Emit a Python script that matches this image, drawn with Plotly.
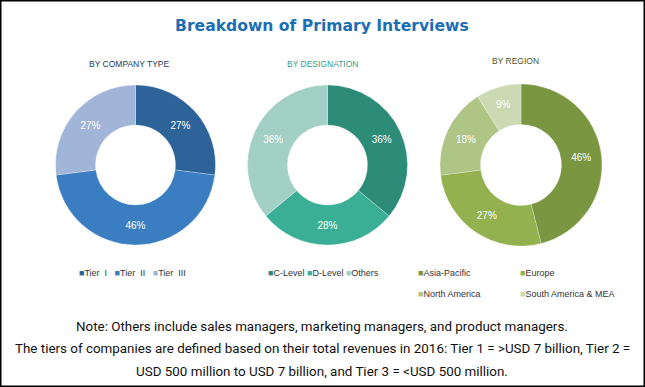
import plotly.graph_objects as go

W, H = 645, 387

# ---- data ----
title_text = "Breakdown of Primary Interviews"

company_labels = ["Tier I", "Tier II", "Tier III"]
company_values = [27, 46, 27]
company_colors = ["#2D6399", "#3A7DC0", "#A1B5D8"]

designation_labels = ["C-Level", "D-Level", "Others"]
designation_values = [36, 28, 36]
designation_colors = ["#2D8C78", "#3BAF95", "#A3D0C5"]

region_labels = ["Asia-Pacific", "Europe", "North America", "South America & MEA"]
region_values = [46, 27, 18, 9]
region_colors = ["#7A9640", "#93B14E", "#AEC586", "#CCDAB4"]

subtitles = ["BY COMPANY TYPE", "BY DESIGNATION", "BY REGION"]
subtitle_colors = ["#1F3A5C", "#3A9A8A", "#4A5528"]

notes = [
    "Note: Others include sales managers, marketing managers, and product managers.",
    "The tiers of companies are defined based on their total revenues in 2016: Tier 1 = >USD 7 billion, Tier 2 =",
    "USD 500 million to USD 7 billion, and Tier 3 = <USD 500 million.",
]

# ---- layout helpers (pixels -> paper) ----
def px(x):
    return x / W

def py(y):
    return 1 - y / H

def dom(cx, cy, r):
    return dict(x=[px(cx - r), px(cx + r)], y=[py(cy + r), py(cy - r)])

fig = go.Figure()

pies = [
    (company_labels, company_values, company_colors, dom(135.5, 165, 80)),
    (designation_labels, designation_values, designation_colors, dom(327.5, 165, 80)),
    (region_labels, region_values, region_colors, dom(521, 165, 81)),
]
for labels, values, colors, d in pies:
    fig.add_trace(go.Pie(
        labels=labels, values=values, hole=0.5, sort=False,
        direction="clockwise", rotation=0, domain=d,
        marker=dict(colors=colors, line=dict(color="rgba(255,255,255,0.5)", width=0.5)),
        textinfo="percent", texttemplate="%{value}%", textposition="inside",
        insidetextorientation="horizontal",
        textfont=dict(family="Liberation Sans, Arial, sans-serif", size=10, color="white"),
        showlegend=False, hoverinfo="label+percent",
    ))

ann = []
# title
ann.append(dict(text=title_text, x=px(322), y=py(26), xref="paper", yref="paper",
                xanchor="center", yanchor="middle", showarrow=False,
                font=dict(family="DejaVu Sans, Verdana, sans-serif", size=15.6, color="#1C6EB4",
                          weight="bold")))
# subtitles
sub_pos = [(129, 64), (322, 64), (515, 61)]
for s, c, (x, y) in zip(subtitles, subtitle_colors, sub_pos):
    ann.append(dict(text=s, x=px(x), y=py(y), xref="paper", yref="paper",
                    xanchor="center", yanchor="middle", showarrow=False,
                    font=dict(family="Liberation Sans, Arial, sans-serif", size=8.5, color=c)))

# legends (built from categories & colors)
legfont = dict(family="Liberation Sans, Arial, sans-serif", size=9, color="#333333")

def leg_item(label, color):
    return f"<span style='color:{color}'>■</span>{label.replace(' ', '&nbsp;&nbsp;')}"

ann.append(dict(text="&nbsp;&nbsp;&nbsp;".join(leg_item(l, c) for l, c in zip(company_labels, company_colors)),
                x=px(77), y=py(273), xref="paper", yref="paper", xanchor="left", yanchor="middle",
                showarrow=False, font=legfont))
ann.append(dict(text=" ".join(leg_item(l, c) for l, c in zip(designation_labels, designation_colors)),
                x=px(266), y=py(273), xref="paper", yref="paper", xanchor="left", yanchor="middle",
                showarrow=False, font=legfont))
for i, (l, c) in enumerate(zip(region_labels, region_colors)):
    col, row = i % 2, i // 2
    ann.append(dict(text=f"<span style='color:{c}'>■</span>{l}", x=px(416 + col * 102),
                    y=py(273 + row * 21),
                    xref="paper", yref="paper", xanchor="left", yanchor="middle",
                    showarrow=False, font=legfont))

# notes
for i, t in enumerate(notes):
    ann.append(dict(text=t, x=px(322), y=py(326 + i * 22.5), xref="paper", yref="paper",
                    xanchor="center", yanchor="middle", showarrow=False,
                    font=dict(family="Roboto, sans-serif", size=13.4, color="#111111")))

fig.update_layout(
    width=W, height=H, margin=dict(l=0, r=0, t=0, b=0),
    paper_bgcolor="white", plot_bgcolor="white",
    annotations=ann,
    shapes=[dict(type="rect", xref="paper", yref="paper", x0=0, y0=0, x1=1, y1=1,
                 line=dict(color="black", width=3))],
)

fig.write_html("out.html", config={"displayModeBar": False},
               post_script="document.body.style.margin='0';")
